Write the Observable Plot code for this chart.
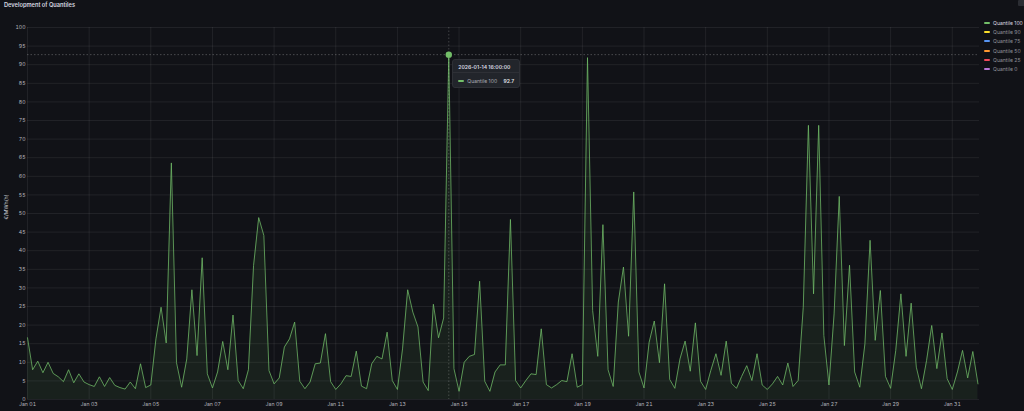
<!DOCTYPE html>
<html><head><meta charset="utf-8">
<script src="https://cdn.jsdelivr.net/npm/d3@7"></script>
<script src="https://cdn.jsdelivr.net/npm/@observablehq/plot@0.6"></script>
<style>
body{margin:0;background:#111217;font-family:Inter,"Noto Sans",sans-serif;}
#wrap{position:relative;width:1024px;height:411px;overflow:hidden;background:#111217;}
#title{position:absolute;left:4px;top:1px;font-size:5.7px;font-weight:600;color:#d8d9e0;line-height:8px;white-space:nowrap;}
#ylab{position:absolute;left:6px;top:207px;transform:translate(-50%,-50%) rotate(-90deg);font-size:5.2px;color:#c7c8d0;white-space:nowrap;}
#legend{position:absolute;left:984px;top:18px;font-size:5.1px;white-space:nowrap;width:60px;}
.li{display:flex;align-items:center;height:9.3px;white-space:nowrap;}
.sw{width:6px;height:2px;border-radius:1px;margin-right:3px;flex:none;}
#tip{position:absolute;background:#22252b;border:1px solid #2e3036;border-radius:3px;box-sizing:border-box;font-size:5.1px;color:#c7c8d0;white-space:nowrap;}
#icon{position:absolute;left:1018px;top:0px;width:7px;height:6px;background:#2b2d33;border-radius:1px;}
</style></head><body><div id="wrap"><div id="title">Development of Quantiles</div><div id="ylab">€/MWh(h)</div><div id="icon"></div><div id="legend"></div></div>
<script>
// 4-hourly series starting 2026-01-01 00:00 UTC
const startTime = "2026-01-01T00:00:00Z";
const stepHours = 4;
const q100 = [
16.6,8.0,10.3,7.2,10.0,7.0,6.1,4.8,8.0,4.5,6.9,4.7,
4.0,3.5,6.1,3.5,5.9,3.8,3.2,2.8,4.7,2.9,9.6,3.2,
3.9,16.3,24.8,15.2,63.6,9.9,3.3,10.9,29.5,11.8,38.1,6.9,
3.1,7.4,15.6,8.0,22.7,5.1,2.9,8.0,36.0,48.9,44.1,7.8,
4.2,5.8,14.1,16.3,20.8,4.9,2.9,4.7,9.6,9.8,17.7,4.8,
2.7,4.2,6.4,6.2,13.0,3.6,2.9,9.6,11.6,10.9,18.1,5.1,
2.7,13.6,29.5,23.5,19.5,4.7,2.4,25.6,16.6,21.9,92.7,8.3,
2.2,10.0,11.6,12.1,31.8,4.9,2.2,7.4,9.3,9.3,48.4,5.1,
3.1,5.1,6.9,6.7,19.0,4.0,3.1,4.0,5.1,4.8,12.3,3.3,
4.0,91.9,23.9,11.6,47.0,8.0,3.5,26.2,35.6,17.0,55.8,7.4,
3.1,15.4,21.1,9.9,31.1,5.4,3.0,10.9,15.7,7.6,20.6,4.9,
2.7,7.8,12.3,6.5,15.7,4.4,3.0,6.2,9.1,5.1,12.3,3.9,
2.7,4.2,6.2,3.9,9.8,3.5,5.1,24.8,73.7,28.4,73.7,17.2,
3.9,23.0,54.6,14.5,36.1,7.4,3.3,15.0,42.8,15.9,29.3,6.2,
3.0,13.2,28.4,11.6,25.9,8.7,2.9,10.5,19.9,8.3,17.9,5.6,
2.7,7.4,13.2,5.8,12.9,4.2
];
const seriesNames = ["Quantile 100","Quantile 90","Quantile 75","Quantile 50","Quantile 25","Quantile 0"];
const seriesColors = ["#73bf69","#fade2a","#5794f2","#ff9830","#f2495c","#b877d9"];
const yTicks = d3.range(0, 101, 5);
const xDomain = [new Date("2026-01-01T00:00:00Z"), new Date("2026-01-31T21:12:00Z")];
const tipTime = "2026-01-14 16:00:00";
const tipValue = 92.7;

const t0 = new Date(startTime).getTime();
const data = q100.map((v, i) => ({date: new Date(t0 + i * stepHours * 3600e3), value: v}));
const peak = data.find(d => d.value === tipValue);

const fontStyle = {background: "transparent", color: "#b4b5bd", fontFamily: "Inter, 'Noto Sans', sans-serif", fontSize: "5.2px", overflow: "visible"};

const plot = Plot.plot({
  width: 1024, height: 411,
  marginLeft: 27, marginRight: 45, marginTop: 27, marginBottom: 12,
  style: fontStyle,
  x: {type: "utc", domain: xDomain},
  y: {domain: [0, 100]},
  marks: [
    Plot.gridY(yTicks, {stroke: "#ffffff", strokeOpacity: 0.07, strokeWidth: 1}),
    Plot.gridX({ticks: d3.utcDay.every(2), stroke: "#ffffff", strokeOpacity: 0.07, strokeWidth: 1}),
    Plot.axisY(yTicks, {tickSize: 0, tickPadding: 2, label: null, fill: "#b4b5bd"}),
    Plot.axisX({ticks: d3.utcDay.every(2), tickFormat: d3.utcFormat("%b %d"), tickSize: 0, tickPadding: 3, label: null, fill: "#b4b5bd"}),
    Plot.areaY(data, {x: "date", y: "value", fill: "#73bf69", fillOpacity: 0.09}),
    Plot.lineY(data, {x: "date", y: "value", stroke: "#73bf69", strokeWidth: 1, strokeOpacity: 0.75}),
    Plot.ruleY([peak.value], {stroke: "#ffffff", strokeOpacity: 0.3, strokeDasharray: "1.5,2", strokeWidth: 0.8}),
    Plot.ruleX([peak.date], {stroke: "#ffffff", strokeOpacity: 0.25, strokeDasharray: "1.5,2", strokeWidth: 0.8}),
    Plot.dot([peak], {x: "date", y: "value", r: 3.2, fill: "#73bf69", stroke: "none"})
  ]
});
plot.style.position = "absolute";
plot.style.left = "0px";
plot.style.top = "0px";
const wrap = document.getElementById("wrap");
wrap.insertBefore(plot, wrap.firstChild);

// legend
const legend = document.getElementById("legend");
seriesNames.forEach((n, i) => {
  const el = document.createElement("div");
  el.className = "li";
  el.innerHTML = `<span class="sw" style="background:${seriesColors[i]}"></span><span style="color:${i === 0 ? '#d8d9e0' : '#8e8f98'}">${n}</span>`;
  legend.appendChild(el);
});

// tooltip
const px = plot.scale("x").apply(peak.date);
const py = plot.scale("y").apply(peak.value);
const tip = document.createElement("div");
tip.id = "tip";
tip.style.left = (px + 4) + "px";
tip.style.top = (py + 5) + "px";
tip.style.width = "68px";
tip.style.height = "29px";
tip.innerHTML = `<div style="padding:2px 5px 0 5px;height:10px;line-height:10px;font-weight:600;color:#d8d9e0;border-bottom:1px solid #2e3036">${tipTime}</div>
<div style="display:flex;align-items:center;padding:0 5px;height:16px;"><span style="width:6px;height:2px;background:${seriesColors[0]};border-radius:1px;margin-right:3px;flex:none"></span><span style="color:#a9aab3">${seriesNames[0]}</span><span style="margin-left:auto;font-weight:600;color:#e0e1e8">${tipValue}</span></div>`;
wrap.appendChild(tip);
</script></body></html>
